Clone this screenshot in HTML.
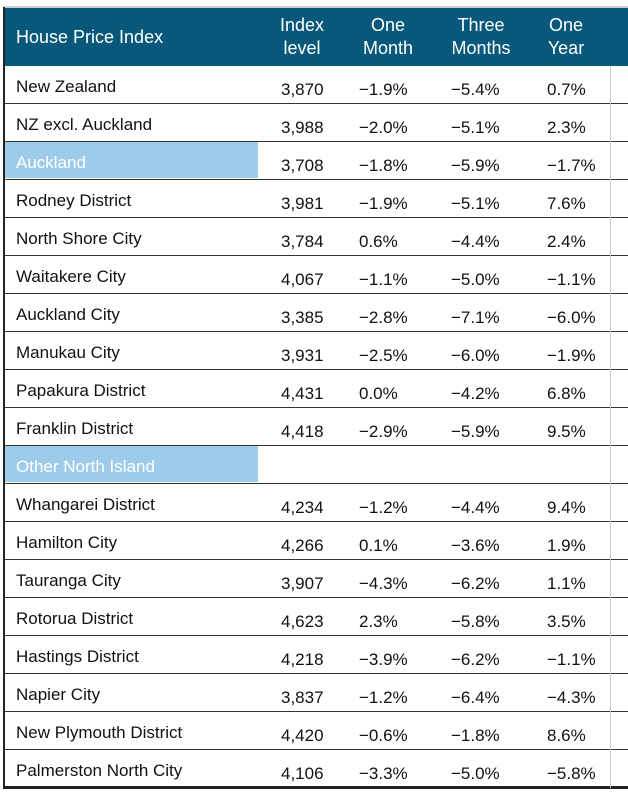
<!DOCTYPE html><html><head><style>
body{margin:0;width:628px;height:793px;background:#fff;position:relative;overflow:hidden;font-family:"Liberation Sans",sans-serif;}
.hd{position:absolute;left:5px;top:8px;width:623px;height:58px;background:#07587a;color:#fff;font-size:18px;}
.hd div{position:absolute;text-align:center;line-height:23px;}
.lb{position:absolute;left:3px;top:7px;width:2px;height:782px;background:#222;}
.topl{position:absolute;left:3px;top:6px;width:625px;height:2px;background:#ccc;}
.row{position:absolute;left:5px;width:623px;height:38px;border-bottom:1.5px solid #333;box-sizing:border-box;font-size:17px;color:#111;}
.row span{position:absolute;}
.n{top:11px;left:11px;}
.c{top:14px;}
.hl{position:absolute;left:0;top:0;width:253px;height:36px;background:#9ecbea;}
.hl+span{color:#fff;}
.vr{position:absolute;left:610px;top:66px;width:1px;height:722px;background:#ccc;}
</style></head><body>
<div class="topl"></div>
<div class="hd">
<div style="left:11px;top:18px;text-align:left">House Price Index</div>
<div style="left:262px;top:6px;width:70px">Index<br>level</div>
<div style="left:348px;top:6px;width:70px">One<br>Month</div>
<div style="left:441px;top:6px;width:70px">Three<br>Months</div>
<div style="left:526px;top:6px;width:70px">One<br>Year</div>
</div>
<div class="lb"></div>
<div id="rows"></div>
<div class="vr"></div>
<script>
var d=[["New Zealand","3,870","−1.9%","−5.4%","0.7%"],["NZ excl. Auckland","3,988","−2.0%","−5.1%","2.3%"],["*Auckland","3,708","−1.8%","−5.9%","−1.7%"],["Rodney District","3,981","−1.9%","−5.1%","7.6%"],["North Shore City","3,784","0.6%","−4.4%","2.4%"],["Waitakere City","4,067","−1.1%","−5.0%","−1.1%"],["Auckland City","3,385","−2.8%","−7.1%","−6.0%"],["Manukau City","3,931","−2.5%","−6.0%","−1.9%"],["Papakura District","4,431","0.0%","−4.2%","6.8%"],["Franklin District","4,418","−2.9%","−5.9%","9.5%"],["*Other North Island","","","",""],["Whangarei District","4,234","−1.2%","−4.4%","9.4%"],["Hamilton City","4,266","0.1%","−3.6%","1.9%"],["Tauranga City","3,907","−4.3%","−6.2%","1.1%"],["Rotorua District","4,623","2.3%","−5.8%","3.5%"],["Hastings District","4,218","−3.9%","−6.2%","−1.1%"],["Napier City","3,837","−1.2%","−6.4%","−4.3%"],["New Plymouth District","4,420","−0.6%","−1.8%","8.6%"],["Palmerston North City","4,106","−3.3%","−5.0%","−5.8%"]];
var h="";d.forEach(function(r,i){var t=66+i*38;var n=r[0],hl="";if(n[0]=="*"){n=n.slice(1);hl='<div class="hl"></div>';}
var last=i==d.length-1?"border-bottom:3px solid #222;height:39px;":"";
h+='<div class="row" style="top:'+t+'px;'+last+'">'+hl+'<span class="n">'+n+'</span><span class="c" style="left:276px">'+r[1]+'</span><span class="c" style="left:354px">'+r[2]+'</span><span class="c" style="left:446px">'+r[3]+'</span><span class="c" style="left:542px">'+r[4]+'</span></div>';});
document.getElementById("rows").innerHTML=h;
</script>
</body></html>
